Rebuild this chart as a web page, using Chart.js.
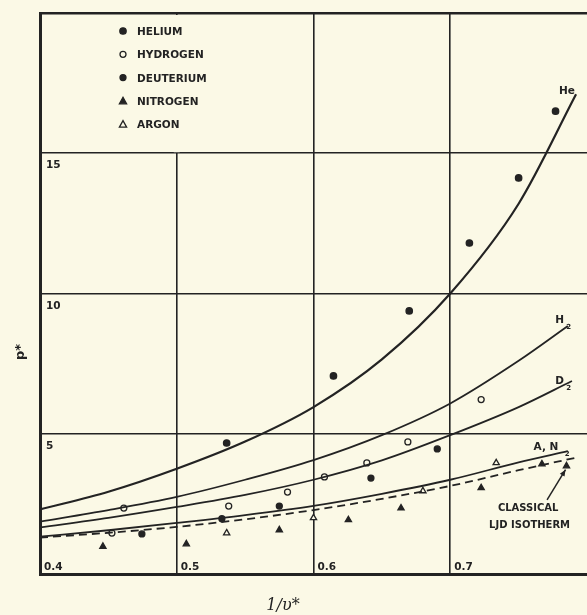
<!DOCTYPE html>
<html><head><meta charset="utf-8">
<script src="https://cdn.jsdelivr.net/npm/chart.js@4"></script>
<style>html,body{margin:0;padding:0;background:#fbf9e6;}</style>
</head><body>
<canvas id="c" width="587" height="615"></canvas>
<script>
// ---- tick labels ----
const xTickLabels = ['0.4', '0.5', '0.6', '0.7'];
const yTickLabels = ['5', '10', '15'];

// ---- fitted curves ----
const heX = [0.40, 0.45, 0.50, 0.55, 0.60, 0.65, 0.70, 0.75, 0.792];
const heY = [2.3, 2.93, 3.75, 4.72, 5.95, 7.65, 10.0, 13.2, 17.1];
const h2X = [0.40, 0.45, 0.50, 0.55, 0.60, 0.65, 0.70, 0.75, 0.786];
const h2Y = [1.87, 2.28, 2.75, 3.36, 4.06, 4.95, 6.08, 7.6, 8.84];
const d2X = [0.40, 0.45, 0.50, 0.55, 0.60, 0.65, 0.70, 0.75, 0.789];
const d2Y = [1.66, 2.0, 2.39, 2.82, 3.36, 4.05, 4.95, 5.95, 6.88];
const anX = [0.40, 0.45, 0.50, 0.55, 0.60, 0.65, 0.70, 0.75, 0.786];
const anY = [1.33, 1.56, 1.82, 2.1, 2.43, 2.86, 3.36, 3.98, 4.38];
const ljdX = [0.40, 0.45, 0.50, 0.55, 0.60, 0.65, 0.70, 0.75, 0.794];
const ljdY = [1.30, 1.47, 1.68, 1.95, 2.28, 2.68, 3.14, 3.7, 4.17];

// ---- measured points ----
const heliumX = [0.5365, 0.6146, 0.670, 0.714, 0.750, 0.777];
const heliumY = [4.67, 7.06, 9.38, 11.8, 14.12, 16.5];
const hydrogenX = [0.4526, 0.4613, 0.538, 0.581, 0.608, 0.639, 0.669, 0.7226];
const hydrogenY = [1.46, 2.35, 2.42, 2.92, 3.46, 3.96, 4.71, 6.22];
const deuteriumX = [0.4745, 0.533, 0.575, 0.642, 0.6905];
const deuteriumY = [1.43, 1.97, 2.42, 3.42, 4.46];
const nitrogenX = [0.446, 0.507, 0.575, 0.6255, 0.664, 0.7226, 0.767, 0.785];
const nitrogenY = [0.98, 1.07, 1.57, 1.93, 2.35, 3.07, 3.92, 3.85];
const argonX = [0.5365, 0.600, 0.680, 0.7336];
const argonY = [1.46, 2.0, 2.96, 3.96];

const legendNames = ['HELIUM', 'HYDROGEN', 'DEUTERIUM', 'NITROGEN', 'ARGON'];

const INK = '#232323';
const BG = '#fbf9e6';
const pts = (xs, ys) => xs.map((x, i) => ({x, y: ys[i]}));

function curve(xs, ys, width, dash) {
  return {type: 'line', data: pts(xs, ys), borderColor: INK, borderWidth: width,
    borderDash: dash || [], pointRadius: 0, fill: false, cubicInterpolationMode: 'monotone', showLine: true};
}
function marks(xs, ys, style, filled, r, label) {
  return {type: 'scatter', label, data: pts(xs, ys), pointStyle: style, pointRadius: r,
    backgroundColor: filled ? INK : BG, borderColor: INK, borderWidth: 1.3, showLine: false};
}

const markerSets = [
  marks(heliumX, heliumY, 'circle', true, 3.2, 'HELIUM'),
  marks(hydrogenX, hydrogenY, 'circle', false, 3, 'HYDROGEN'),
  marks(deuteriumX, deuteriumY, 'circle', true, 3, 'DEUTERIUM'),
  marks(nitrogenX, nitrogenY, 'triangle', true, 3.6, 'NITROGEN'),
  marks(argonX, argonY, 'triangle', false, 3.6, 'ARGON')
];

const decor = {
  id: 'decor',
  beforeDraw(chart) {
    const c = chart.ctx;
    c.save(); c.fillStyle = BG; c.fillRect(0, 0, chart.width, chart.height); c.restore();
  },
  beforeDatasetsDraw(chart) {
    const c = chart.ctx, xs = chart.scales.x, ys = chart.scales.y;
    c.save();
    c.fillStyle = BG;
    const px = xs.getPixelForValue(0.5);
    c.fillRect(px - 3, ys.getPixelForValue(20) + 2, 6, ys.getPixelForValue(15) - ys.getPixelForValue(20) - 3);
    c.restore();
  },
  afterDatasetsDraw(chart) {
    const c = chart.ctx, xs = chart.scales.x, ys = chart.scales.y;
    const X = v => xs.getPixelForValue(v), Y = v => ys.getPixelForValue(v);
    c.save();
    c.fillStyle = INK; c.strokeStyle = INK;
    c.font = 'bold 10.5px "DejaVu Sans"';
    c.textBaseline = 'alphabetic'; c.textAlign = 'left';
    xTickLabels.forEach(t => c.fillText(t, X(parseFloat(t)) + 4, Y(0) - 4));
    yTickLabels.forEach(t => c.fillText(t, X(0.4) + 6, Y(parseFloat(t)) + 15));
    // legend
    markerSets.forEach((d, i) => {
      const ly = Y(20) + 22 + i * 23.3;
      const lx = X(0.4) + 83;
      c.beginPath();
      if (d.pointStyle === 'circle') {
        c.arc(lx, ly - 4, d.pointRadius, 0, Math.PI * 2);
      } else {
        const r = d.pointRadius;
        c.moveTo(lx, ly - 4 - r); c.lineTo(lx + r, ly - 4 + r * 0.8); c.lineTo(lx - r, ly - 4 + r * 0.8); c.closePath();
      }
      c.fillStyle = d.backgroundColor; c.fill(); c.lineWidth = 1.3; c.stroke();
      c.fillStyle = INK;
      c.fillText(legendNames[i], lx + 14, ly);
    });
    // curve labels
    c.font = 'bold 10.5px "DejaVu Sans"';
    c.textAlign = 'center';
    c.fillText('He', X(0.7854), Y(17.1));
    c.fillText('H', X(0.7800), Y(8.95));
    c.fillText('D', X(0.7800), Y(6.78));
    c.fillText('A, N', X(0.7700), Y(4.43));
    c.font = 'bold 7px "DejaVu Sans"';
    c.fillText('2', X(0.7866), Y(8.72));
    c.fillText('2', X(0.7866), Y(6.55));
    c.fillText('2', X(0.7855), Y(4.2));
    c.font = 'bold 10px "DejaVu Sans"';
    c.fillText('CLASSICAL', X(0.757), Y(2.25));
    c.fillText('LJD ISOTHERM', X(0.758), Y(1.64));
    // arrow
    const ax0 = X(0.7708), ay0 = Y(2.64), ax1 = X(0.7843), ay1 = Y(3.72);
    c.lineWidth = 1.5;
    c.beginPath(); c.moveTo(ax0, ay0); c.lineTo(ax1, ay1); c.stroke();
    const ang = Math.atan2(ay1 - ay0, ax1 - ax0);
    c.beginPath();
    c.moveTo(ax1, ay1);
    c.lineTo(ax1 - 7 * Math.cos(ang - 0.4), ay1 - 7 * Math.sin(ang - 0.4));
    c.lineTo(ax1 - 7 * Math.cos(ang + 0.4), ay1 - 7 * Math.sin(ang + 0.4));
    c.closePath(); c.fill();
    // axis titles
    c.font = 'bold 13px "DejaVu Sans"';
    c.save();
    c.translate(24, 352); c.rotate(-Math.PI / 2);
    c.textAlign = 'center'; c.fillText('p*', 0, 0);
    c.restore();
    c.font = 'italic 16px "DejaVu Serif"';
    c.textAlign = 'center';
    c.fillText('1/υ*', 283, 610);
    c.restore();
  }
};

new Chart(document.getElementById('c'), {
  type: 'scatter',
  data: {
    datasets: [
      curve(heX, heY, 2.2),
      curve(h2X, h2Y, 1.8),
      curve(d2X, d2Y, 1.8),
      curve(anX, anY, 1.8),
      curve(ljdX, ljdY, 1.8, [8, 5]),
      ...markerSets
    ]
  },
  options: {
    responsive: false, animation: false,
    layout: {autoPadding: false, padding: {left: 40, top: 13, right: -5, bottom: 41}},
    plugins: {legend: {display: false}, tooltip: {enabled: false}},
    scales: {
      x: {type: 'linear', min: 0.4, max: 0.8,
        ticks: {display: false, stepSize: 0.1},
        grid: {color: INK, drawTicks: false,
          lineWidth: ctx => (ctx.tick && Math.abs(ctx.tick.value - 0.8) < 1e-6) ? 0 : 1.6},
        border: {display: true, color: INK, width: 3}},
      y: {type: 'linear', min: 0, max: 20,
        ticks: {display: false, stepSize: 5},
        grid: {color: INK, drawTicks: false,
          lineWidth: ctx => (ctx.tick && ctx.tick.value === 20) ? 2.6 : 1.6},
        border: {display: true, color: INK, width: 3}}
    }
  },
  plugins: [decor]
});
</script>
</body></html>
